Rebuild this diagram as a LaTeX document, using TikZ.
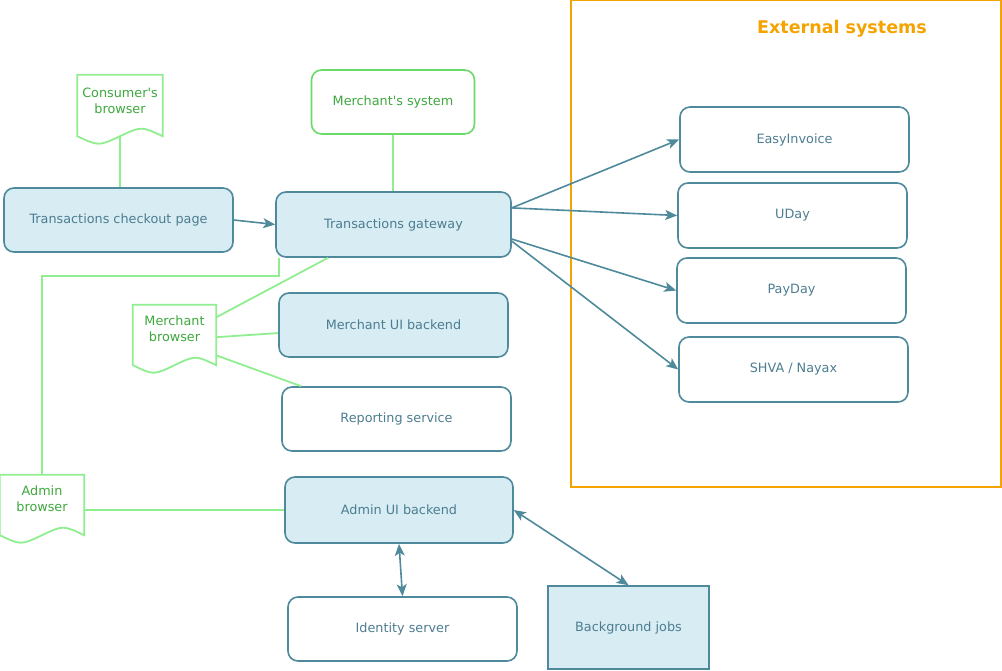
\documentclass[tikz,border=0pt]{standalone}
\usepackage{fontspec}
\setmainfont{DejaVu Sans}[Ligatures=TeXOff]
\usetikzlibrary{arrows.meta,calc}

\definecolor{edgeblue}{HTML}{4F8A9C}
\definecolor{boxfill}{HTML}{D7ECF3}
\definecolor{textblue}{HTML}{4D7D91}
\definecolor{docgreen}{HTML}{90EE90}
\definecolor{sysgreen}{HTML}{6ADB6A}
\definecolor{labelgreen}{HTML}{3FA83F}
\definecolor{extorange}{HTML}{F5A300}

\tikzset{
  box/.style={draw=edgeblue, line width=1.6pt, rounded corners=10pt,
    text=textblue, font=\fontsize{12.8}{15}\selectfont, inner sep=0pt},
  bluebox/.style={box, fill=boxfill},
  whitebox/.style={box, fill=white},
  docnode/.style={inner sep=0pt, rectangle},
  doctext/.style={text=labelgreen, align=center, font=\fontsize{12.8}{16}\selectfont, inner sep=0pt},
  docline/.style={draw=docgreen, line width=1.8pt, fill=white, line join=miter},
  greenlink/.style={draw=docgreen, line width=1.8pt},
  flow/.style={draw=edgeblue, line width=1.6pt,
    -{Stealth[length=12pt, width=10pt, inset=3pt]}},
  twoway/.style={draw=edgeblue, line width=1.6pt,
    {Stealth[length=12pt, width=10pt, inset=3pt]}-{Stealth[length=12pt, width=10pt, inset=3pt]}},
}

% outline of a document symbol with a wavy lower edge around node #1
\newcommand{\docoutline}[1]{%
  \path[docline] (#1.south east)
    .. controls ($(#1.south west)!0.75!(#1.south east)+(0,-10)$) .. ($(#1.south west)!0.5!(#1.south east)$)
    .. controls ($(#1.south west)!0.25!(#1.south east)+(0,10)$) .. (#1.south west)
    -- (#1.north west) -- (#1.north east) -- cycle;}

\begin{document}
\begin{tikzpicture}[x=1pt, y=-1pt]
\useasboundingbox (0,0) rectangle (1002,670);

% external systems frame
\node[draw=extorange, line width=1.6pt, minimum width=430pt, minimum height=487pt, inner sep=0pt] (ext) at (786,243.5) {};
\node[text=extorange, font=\fontsize{17.5}{20}\selectfont\bfseries] (exttitle) at (842,29) {External systems};

% document symbols (browsers)
\node[docnode, minimum width=85pt, minimum height=61pt] (cb) at (120,105.5) {};
\docoutline{cb}
\node[doctext] (cbt) at (120,100.5) {Consumer's\\browser};

\node[docnode, minimum width=83pt, minimum height=60pt] (mb) at (174.5,335) {};
\docoutline{mb}
\node[doctext] (mbt) at (174.5,329) {Merchant\\browser};

\node[docnode, minimum width=84pt, minimum height=60pt] (ab) at (42,505) {};
\docoutline{ab}
\node[doctext] (abt) at (42,499) {Admin\\browser};

% service boxes
\node[bluebox, minimum width=229pt, minimum height=64pt] (checkout) at (118.5,220) {Transactions checkout page};
\node[bluebox, minimum width=235pt, minimum height=65pt] (gateway) at (393.5,224.5) {Transactions gateway};
\node[box, draw=sysgreen, text=labelgreen, fill=white, minimum width=163pt, minimum height=64pt] (merchsys) at (393,102) {Merchant's system};
\node[bluebox, minimum width=229pt, minimum height=64pt] (muib) at (393.5,325) {Merchant UI backend};
\node[whitebox, minimum width=229pt, minimum height=64pt] (report) at (396.5,419) {Reporting service};
\node[bluebox, minimum width=228pt, minimum height=66pt] (auib) at (399,510) {Admin UI backend};
\node[whitebox, minimum width=229pt, minimum height=64pt] (ident) at (402.5,629) {Identity server};
\node[bluebox, rounded corners=0pt, minimum width=161pt, minimum height=83pt] (bgjobs) at (628.5,627.5) {Background jobs};

% external services
\node[whitebox, minimum width=229pt, minimum height=65pt] (easy) at (794.5,139.5) {EasyInvoice};
\node[whitebox, minimum width=229pt, minimum height=65pt] (uday) at (792.5,215.5) {UDay};
\node[whitebox, minimum width=229pt, minimum height=65pt] (payday) at (791.5,290.5) {PayDay};
\node[whitebox, minimum width=229pt, minimum height=65pt] (shva) at (793.5,369.5) {SHVA / Nayax};

% browser links
\draw[greenlink] (cb.south) -- (cb.south |- checkout.north);
\draw[greenlink] (merchsys.south) -- (merchsys.south |- gateway.north);
\draw[greenlink] (mb.23) -- (gateway.-153);
\draw[greenlink] (mb.-3) -- (muib.-176);
\draw[greenlink] (mb.-26) -- (report.161);
\coordinate (gwl) at ($(gateway.south west)+(4,0)$);
\draw[greenlink] (ab.north) |- ($(gwl)+(0,18)$) -- (gwl);
\draw[greenlink] (ab.east |- auib.west) -- (auib.west);

% service flows
\draw[flow] (checkout.east) -- (gateway.west);
\draw[flow] (gateway.8) -- (easy.west);
\draw[flow] (gateway.8) -- (uday.west);
\draw[flow] (gateway.-7) -- (payday.west);
\draw[flow] (gateway.-8) -- (shva.west);
\draw[twoway] (auib.south) -- (ident.north);
\draw[twoway] (auib.east) -- (bgjobs.north);
\end{tikzpicture}
\end{document}
